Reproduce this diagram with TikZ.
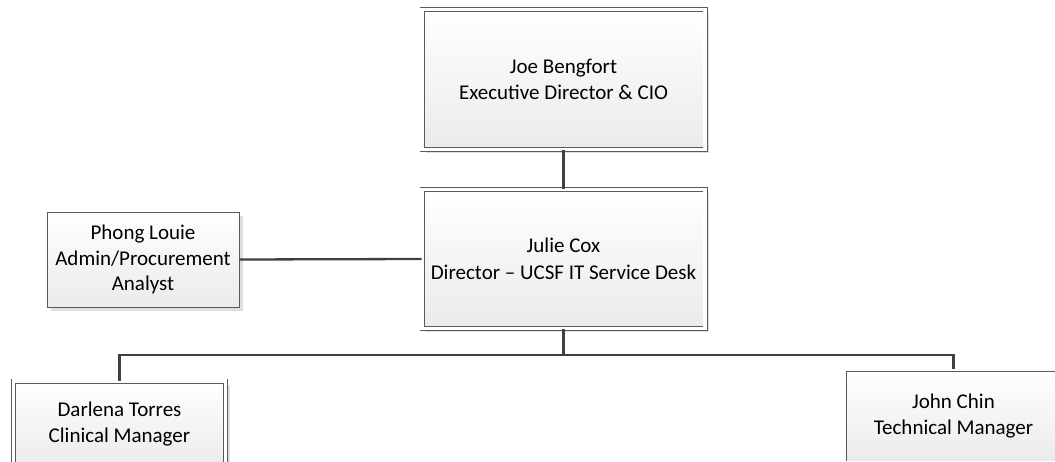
\documentclass[tikz,border=0pt]{standalone}
\usepackage{fontspec}
\setmainfont{Carlito}
\usetikzlibrary{calc}
\definecolor{edgec}{HTML}{404040}
\definecolor{boxc}{HTML}{5A5A5A}
\definecolor{shadowc}{HTML}{DEDEDE}
\tikzset{
  orgbox/.style={draw=boxc, line width=0.9pt, double=white, double distance=3.2pt,
    top color=white, bottom color=black!8, align=center, inner sep=0pt,
    font=\fontsize{21}{26.5}\selectfont, text=black,
    preaction={fill=shadowc, transform canvas={shift={(4pt,-4pt)}}}},
  simplebox/.style={draw=boxc, line width=0.9pt,
    top color=white, bottom color=black!8, align=center, inner sep=0pt,
    font=\fontsize{21}{25.5}\selectfont, text=black,
    preaction={fill=shadowc, transform canvas={shift={(4pt,-4pt)}}}},
  link/.style={draw=edgec, line width=2.3pt}
}
\begin{document}
\begin{tikzpicture}[x=1pt,y=-1pt]
\useasboundingbox (0,0) rectangle (1055,462);
\clip (0,0) rectangle (1055,462);
\node[orgbox, minimum width=283pt, minimum height=140pt] (joe) at (563.5,79.5) {Joe Bengfort\\Executive Director \& CIO};
\node[orgbox, minimum width=283pt, minimum height=139pt] (julie) at (563.5,259) {Julie Cox\\Director – UCSF IT Service Desk};
\node[simplebox, minimum width=192pt, minimum height=95pt] (phong) at (143,259.5) {Phong Louie\\Admin/Procurement\\Analyst};
\node[orgbox, minimum width=212pt, minimum height=86pt] (darlena) at (119.5,424) {Darlena Torres\\Clinical Manager};
\node[orgbox, minimum width=219pt, minimum height=94pt] (john) at (953.5,416) {John Chin\\Technical Manager};
\draw[link] (joe.south) -- (julie.north);
\draw[link] (phong.east) -- (julie.west);
\coordinate (bus) at ($(julie.south)+(0,26)$);
\draw[link] (julie.south) -- (bus) -| (darlena.north);
\draw[link] (bus) -| (john.north);
\end{tikzpicture}
\end{document}
